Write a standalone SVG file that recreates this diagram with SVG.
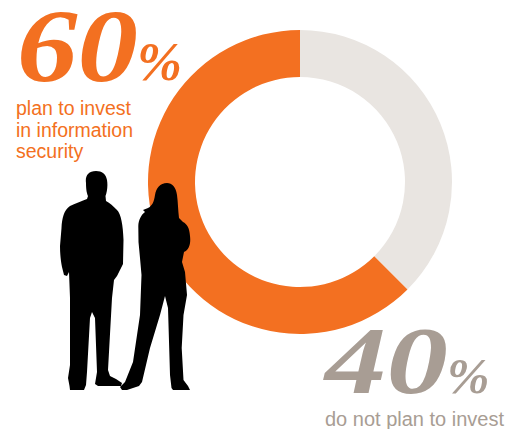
<svg xmlns="http://www.w3.org/2000/svg" width="518" height="429" viewBox="0 0 518 429">
  <style>
    .orange { fill: #F37021; }
    .grey { fill: #E9E5E1; }
    .big { font-family: "Liberation Serif", "DejaVu Serif", serif; font-weight: bold; font-style: italic; }
    .label { font-family: "Liberation Sans", Arial, sans-serif; font-size: 19.5px; }
    .tOrange { fill: #F37021; }
    .tGrey { fill: #A89D94; }
    .sil { fill: #000000; }
  </style>
  <rect width="518" height="429" fill="#FFFFFF"/>
  <g id="donut">
    <path id="slice-40" class="grey" d="M 300 30 A 152 152 0 0 1 407.48 289.48 L 374.25 256.25 A 105 105 0 0 0 300 77 Z"/>
    <path id="slice-60" class="orange" d="M 407.48 289.48 A 152 152 0 1 1 300 30 L 300 77 A 105 105 0 1 0 374.25 256.25 Z"/>
  </g>
  <g id="label-60">
    <text class="big tOrange" x="17" y="81" font-size="103" textLength="121" lengthAdjust="spacingAndGlyphs">60</text>
    <text class="big tOrange" x="137" y="80" font-size="54">%</text>
    <text class="label tOrange" x="16" y="115">plan to invest</text>
    <text class="label tOrange" x="16" y="136.5">in information</text>
    <text class="label tOrange" x="16" y="158">security</text>
  </g>
  <g id="label-40">
    <text class="big tGrey" x="325" y="393" font-size="96" textLength="123" lengthAdjust="spacingAndGlyphs">40</text>
    <text class="big tGrey" x="447" y="393" font-size="51">%</text>
    <text class="label tGrey" x="325" y="426" style="font-size:20px">do not plan to invest</text>
  </g>
  <g id="silhouettes">
    <path id="man" class="sil" d="M 96 171 C 88 171, 85 176, 86 183 C 86 190, 87 194, 88 196 L 87 199 C 82 201, 76 203, 70 206 C 64 210, 62 218, 61.5 228 L 60 246 C 60 255, 61 262, 62 267 L 64 275 L 67 276 L 69 272 L 70 298 L 70 365 L 68 378 L 69.5 386 L 70 390 L 84 390 L 86 385 L 87 372 L 90 318 L 92 312 L 95 318 L 97 372 L 95 384 L 98 386 L 121 386 L 122 383 L 116 379 L 110 376 L 108 370 L 112 298 L 114 280 L 117 276 L 120 270 L 123 264 L 123.5 240 C 123 225, 121 214, 117 210 C 113 206, 110 203, 106 201 L 105.5 196 C 107 192, 108 186, 107 180 C 106 174, 102 171, 96 171 Z"/>
    <path id="woman" class="sil" d="M 167 183 C 160 183, 156 188, 155 195 C 154 202, 152 206, 148 208 L 143 210 L 145 212 C 141 215, 138.5 220, 138.3 226 L 138.5 242 L 140 258 L 141.5 275 L 140 315 L 133 362 L 125 382 L 120 387 L 122 390 L 127 390 L 139 386 L 142 382 L 150 348 L 160 315 L 165 296 L 168 308 L 170 375 L 171.5 388 L 173 390 L 190 390 L 188 386 L 183.5 380 L 181.7 348 L 183.5 315 L 187 295 L 185 272 L 182 262 L 184 252 C 189 250, 191 244, 190 236 C 189.5 228, 187 224, 183 222 L 179 218 C 178 210, 178 202, 177 195 C 176 187, 172 183, 167 183 Z"/>
  </g>
</svg>
